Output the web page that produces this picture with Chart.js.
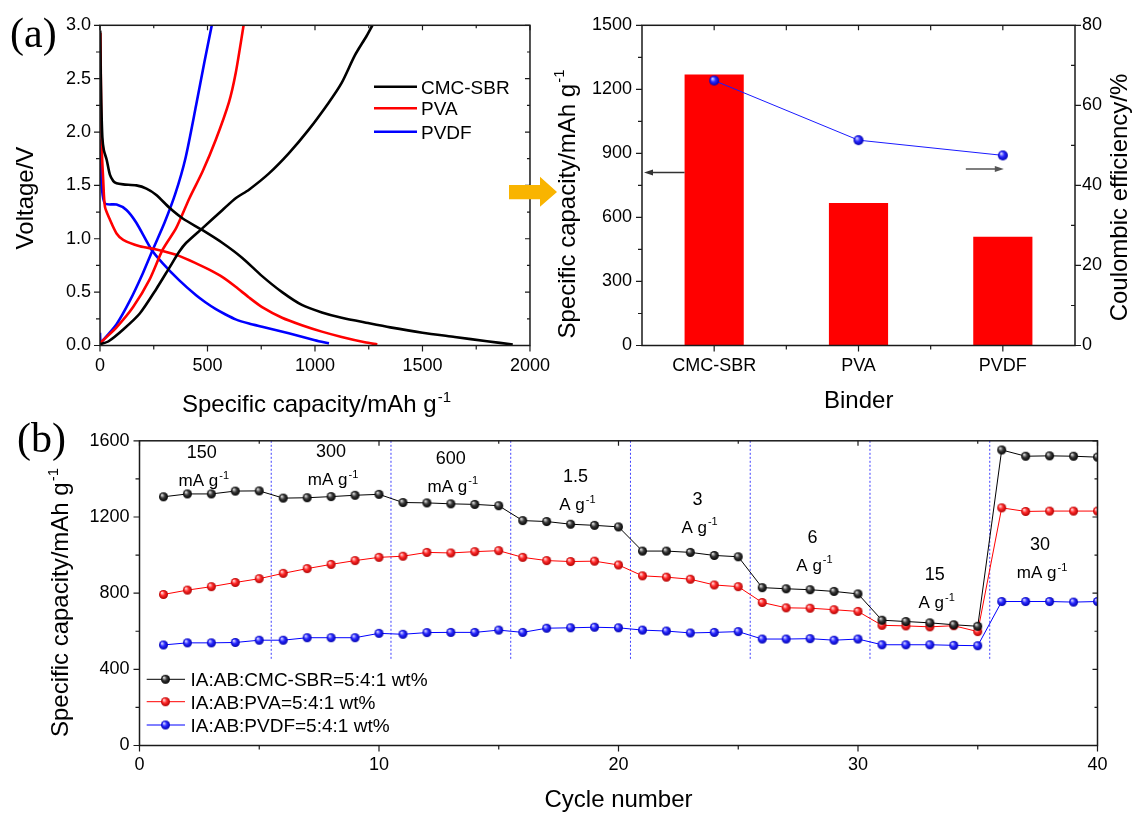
<!DOCTYPE html>
<html>
<head>
<meta charset="utf-8">
<script src="https://cdn.jsdelivr.net/npm/chart.js@4.4.0/dist/chart.umd.min.js"></script>
<style>
body { margin: 0; background: #fff; }
#wrap { position: relative; width: 1138px; height: 814px; overflow: hidden; }
canvas { position: absolute; }
</style>
</head>
<body>
<div id="wrap">
  <canvas id="cA" width="560" height="420" style="left:0;top:0"></canvas>
  <canvas id="cB" width="598" height="420" style="left:540px;top:0"></canvas>
  <canvas id="cC" width="1138" height="394" style="left:0;top:420px"></canvas>
</div>
<script>
// ---- (a) left: first discharge / charge curves (capacity mAh/g, voltage V)
const cmcDisCap = [1, 3, 6, 11, 18, 31, 46, 62, 77, 108, 169, 216, 262, 323, 385, 477, 570, 662, 754, 847, 939, 1032, 1124, 1247, 1350, 1500, 1650, 1800, 1920];
const cmcDisV   = [2.95, 2.6, 2.27, 1.95, 1.83, 1.74, 1.60, 1.54, 1.52, 1.51, 1.50, 1.47, 1.41, 1.29, 1.19, 1.08, 0.96, 0.82, 0.65, 0.50, 0.38, 0.31, 0.26, 0.21, 0.17, 0.12, 0.08, 0.04, 0.01];
const cmcChgCap = [0, 40, 108, 185, 262, 323, 369, 400, 477, 570, 631, 693, 785, 878, 970, 1062, 1124, 1186, 1240, 1267];
const cmcChgV   = [0.01, 0.04, 0.15, 0.30, 0.53, 0.73, 0.88, 0.96, 1.10, 1.27, 1.38, 1.46, 1.61, 1.80, 2.02, 2.27, 2.46, 2.72, 2.90, 3.0];

const pvaDisCap = [2, 4, 6, 9, 15, 23, 46, 77, 108, 185, 262, 354, 447, 508, 570, 631, 693, 754, 847, 939, 1032, 1124, 1232, 1290];
const pvaDisV   = [2.93, 2.5, 2.11, 1.8, 1.55, 1.30, 1.18, 1.05, 0.99, 0.93, 0.90, 0.85, 0.77, 0.71, 0.64, 0.55, 0.45, 0.36, 0.26, 0.19, 0.13, 0.08, 0.03, 0.01];
const pvaChgCap = [0, 15, 77, 154, 231, 292, 354, 416, 477, 539, 600, 631, 668];
const pvaChgV   = [0.02, 0.05, 0.17, 0.36, 0.62, 0.90, 1.10, 1.38, 1.63, 1.93, 2.28, 2.55, 3.0];

const pvdfDisCap = [1, 4, 8, 23, 77, 123, 169, 239, 292, 369, 447, 490, 539, 580, 631, 693, 754, 878, 1000, 1065];
const pvdfDisV   = [1.93, 1.7, 1.49, 1.33, 1.32, 1.27, 1.15, 0.90, 0.77, 0.61, 0.47, 0.405, 0.34, 0.295, 0.245, 0.205, 0.175, 0.115, 0.05, 0.02];
const pvdfChgCap = [0, 2, 5, 77, 139, 200, 246, 300, 350, 397, 447, 485, 520];
const pvdfChgV   = [0.12, 0.03, 0.03, 0.20, 0.42, 0.68, 0.90, 1.15, 1.42, 1.75, 2.25, 2.65, 3.0];

// ---- (a) right: first-cycle capacity and coulombic efficiency per binder
const binders = ['CMC-SBR', 'PVA', 'PVDF'];
const firstCapacity = [1270, 668, 509];
const coulombEff = [66.2, 51.3, 47.5];

// ---- (b) rate performance
const cycles = [1, 2, 3, 4, 5, 6, 7, 8, 9, 10, 11, 12, 13, 14, 15, 16, 17, 18, 19, 20,
                21, 22, 23, 24, 25, 26, 27, 28, 29, 30, 31, 32, 33, 34, 35, 36, 37, 38, 39, 40];
const capCMC = [1306, 1321, 1321, 1336, 1337, 1299, 1301, 1307, 1314, 1319, 1276, 1274, 1269, 1266, 1259, 1181, 1176, 1162, 1156, 1148,
                1021, 1021, 1014, 998, 991, 829, 823, 818, 809, 796, 658, 651, 644, 634, 626, 1552, 1519, 1521, 1519, 1514];
const capPVA = [793, 816, 834, 856, 876, 904, 929, 951, 971, 988, 994, 1014, 1011, 1018, 1023, 988, 971, 966, 968, 948,
                891, 884, 873, 843, 834, 751, 723, 721, 713, 704, 631, 628, 623, 629, 598, 1248, 1229, 1231, 1231, 1231];
const capPVDF = [528, 539, 539, 541, 553, 553, 566, 566, 566, 589, 584, 593, 594, 594, 606, 594, 616, 618, 621, 618,
                 606, 601, 591, 594, 598, 559, 559, 561, 553, 559, 529, 529, 529, 526, 524, 756, 756, 756, 753, 756];
const rateSwitch = [5.5, 10.5, 15.5, 20.5, 25.5, 30.5, 35.5];
const rateValue = ['150', '300', '600', '1.5', '3', '6', '15', '30'];
const rateUnit = ['mA g', 'mA g', 'mA g', 'A g', 'A g', 'A g', 'A g', 'mA g'];

// layout (placement of rate labels in axis units)
const rateLabelX = [2.6, 8.0, 13.0, 18.2, 23.3, 28.1, 33.2, 37.6];
const rateLabelY = [1542, 1547, 1512, 1417, 1297, 1097, 902, 1057];

const SANS = "'Liberation Sans', Arial, sans-serif";
const SERIF = "'Liberation Serif', 'Times New Roman', serif";
Chart.defaults.font.family = SANS;
Chart.defaults.font.size = 18;
Chart.defaults.color = '#000';
Chart.defaults.animation = false;

function pts(xs, ys) { return xs.map((x, i) => ({ x: x, y: ys[i] })); }

function range(a, b, step) {
  const r = [];
  for (let v = a; v <= b + 1e-9; v += step) r.push(+v.toFixed(6));
  return r;
}

const plain = v => String(v);

// shaded sphere used as marker
function ball(c0, c1, c2, r) {
  const cv = document.createElement('canvas');
  const s = Math.ceil(2 * r + 2);
  cv.width = s; cv.height = s;
  const g = cv.getContext('2d');
  const m = s / 2;
  const grd = g.createRadialGradient(m - r * 0.35, m - r * 0.4, r * 0.1, m, m, r);
  grd.addColorStop(0, c0);
  grd.addColorStop(0.45, c1);
  grd.addColorStop(1, c2);
  g.fillStyle = grd;
  g.beginPath(); g.arc(m, m, r, 0, Math.PI * 2); g.fill();
  return cv;
}
const ballK = ball('#d8d8d8', '#3a3a3a', '#000', 4.5);
const ballR = ball('#ffd0d0', '#ff2a2a', '#b00000', 4.5);
const ballB = ball('#d0d0ff', '#2a2aff', '#0000b0', 4.5);
const ballB2 = ball('#d0d0ff', '#2a2aff', '#0000b0', 5);

function supText(ctx, main, sup, x, y, size, align, family) {
  family = family || SANS;
  ctx.font = size + 'px ' + family;
  const w1 = ctx.measureText(main).width;
  const ss = Math.round(size * 0.62);
  ctx.font = ss + 'px ' + family;
  const w2 = sup ? ctx.measureText(sup).width + 1 : 0;
  let x0 = x;
  if (align === 'center') x0 = x - (w1 + w2) / 2;
  else if (align === 'right') x0 = x - w1 - w2;
  ctx.textAlign = 'left';
  ctx.textBaseline = 'alphabetic';
  ctx.fillStyle = '#000';
  ctx.font = size + 'px ' + family;
  ctx.fillText(main, x0, y);
  if (sup) {
    ctx.font = ss + 'px ' + family;
    ctx.fillText(sup, x0 + w1 + 1, y - size * 0.42);
  }
}

function vText(ctx, main, sup, x, y, size) {
  ctx.save();
  ctx.translate(x, y);
  ctx.rotate(-Math.PI / 2);
  supText(ctx, main, sup, 0, 0, size, 'center');
  ctx.restore();
}

function tickMarks(ctx, chart, scaleId, side, values, len) {
  const a = chart.chartArea, s = chart.scales[scaleId];
  ctx.beginPath();
  values.forEach(v => {
    const p = s.getPixelForValue(v);
    if (side === 'left') { ctx.moveTo(a.left, p); ctx.lineTo(a.left - len, p); }
    if (side === 'right') { ctx.moveTo(a.right, p); ctx.lineTo(a.right + len, p); }
    if (side === 'bottom') { ctx.moveTo(p, a.bottom); ctx.lineTo(p, a.bottom + len); }
    if (side === 'top') { ctx.moveTo(p, a.top); ctx.lineTo(p, a.top - len); }
  });
  ctx.stroke();
}

function frame(ctx, chart) {
  const a = chart.chartArea;
  ctx.strokeStyle = '#1a1a1a';
  ctx.lineWidth = 1.5;
  ctx.strokeRect(a.left, a.top, a.right - a.left, a.bottom - a.top);
}

function arrow(ctx, x1, y, x2, color) {
  const d = x2 > x1 ? 1 : -1;
  ctx.strokeStyle = color; ctx.fillStyle = color; ctx.lineWidth = 1.5;
  ctx.beginPath(); ctx.moveTo(x1, y); ctx.lineTo(x2 - d * 6, y); ctx.stroke();
  ctx.beginPath(); ctx.moveTo(x2, y); ctx.lineTo(x2 - d * 9, y - 3); ctx.lineTo(x2 - d * 9, y + 3); ctx.closePath(); ctx.fill();
}

const hideGrid = { display: false, drawTicks: false };
const noBorder = { display: false };

// ================= (a) voltage profiles =================
function curve(label, xs, ys, color) {
  return { label: label, data: pts(xs, ys), borderColor: color, borderWidth: 2.6, pointRadius: 0, tension: 0.25, fill: false };
}

new Chart(document.getElementById('cA'), {
  type: 'line',
  data: {
    datasets: [
      curve('CMC-SBR', cmcDisCap, cmcDisV, '#000'),
      curve('CMC-SBR charge', cmcChgCap, cmcChgV, '#000'),
      curve('PVA', pvaDisCap, pvaDisV, '#ff0000'),
      curve('PVA charge', pvaChgCap, pvaChgV, '#ff0000'),
      curve('PVDF', pvdfDisCap, pvdfDisV, '#0000ff'),
      curve('PVDF charge', pvdfChgCap, pvdfChgV, '#0000ff')
    ]
  },
  options: {
    responsive: false,
    layout: { padding: { top: 25.3, right: 27, left: 0, bottom: 0 } },
    plugins: { legend: { display: false }, tooltip: { enabled: false } },
    scales: {
      x: { type: 'linear', min: 0, max: 2000, grid: hideGrid, border: noBorder,
           ticks: { stepSize: 500, padding: 10, maxRotation: 0, callback: plain },
           afterFit: s => { s.height = 74.5; } },
      y: { min: 0, max: 3, grid: hideGrid, border: noBorder,
           ticks: { stepSize: 0.5, padding: 9, callback: v => v.toFixed(1) },
           afterFit: s => { s.width = 100; } }
    }
  },
  plugins: [{
    id: 'decoA',
    afterDraw(chart) {
      const ctx = chart.ctx;
      ctx.save();
      frame(ctx, chart);
      ctx.lineWidth = 1.2;
      tickMarks(ctx, chart, 'y', 'left', range(0, 3, 0.5), 6);
      tickMarks(ctx, chart, 'y', 'left', range(0.25, 2.75, 0.5), 4);
      tickMarks(ctx, chart, 'y', 'right', range(0, 3, 0.5), -5);
      tickMarks(ctx, chart, 'y', 'right', range(0.25, 2.75, 0.5), -3);
      tickMarks(ctx, chart, 'x', 'bottom', range(0, 2000, 500), 6);
      tickMarks(ctx, chart, 'x', 'bottom', range(250, 1750, 500), 4);
      tickMarks(ctx, chart, 'x', 'top', range(0, 2000, 500), -5);
      tickMarks(ctx, chart, 'x', 'top', range(250, 1750, 500), -3);

      // legend
      const rows = [[0, 86.7], [2, 108.3], [4, 131.7]];
      rows.forEach(r => {
        const ds = chart.data.datasets[r[0]];
        ctx.strokeStyle = ds.borderColor; ctx.lineWidth = 2.6;
        ctx.beginPath(); ctx.moveTo(374, r[1]); ctx.lineTo(417, r[1]); ctx.stroke();
        supText(ctx, ds.label, '', 421, r[1] + 7, 19, 'left');
      });

      supText(ctx, '(a)', '', 10, 47, 42, 'left', SERIF);
      supText(ctx, 'Specific capacity/mAh g', '-1', 316.5, 412, 24, 'center');
      vText(ctx, 'Voltage/V', '', 33, 198, 24);

      // yellow arrow pointing to the bar chart
      ctx.fillStyle = '#f9b400';
      ctx.beginPath();
      ctx.moveTo(509, 185); ctx.lineTo(540, 185); ctx.lineTo(540, 176.7);
      ctx.lineTo(557, 192); ctx.lineTo(540, 206.7); ctx.lineTo(540, 199.3);
      ctx.lineTo(509, 199.3); ctx.closePath(); ctx.fill();
      ctx.restore();
    }
  }]
});

// ================= (a) binder comparison =================
new Chart(document.getElementById('cB'), {
  type: 'bar',
  data: {
    labels: binders,
    datasets: [
      { type: 'line', label: 'Coulombic efficiency', data: coulombEff, yAxisID: 'y1', order: 0,
        borderColor: '#1a1aff', borderWidth: 1, pointStyle: ballB2, pointRadius: 5 },
      { type: 'bar', label: 'Specific capacity', data: firstCapacity, yAxisID: 'y', order: 1,
        backgroundColor: '#ff0000', borderWidth: 0, barPercentage: 0.41, categoryPercentage: 1 }
    ]
  },
  options: {
    responsive: false,
    layout: { padding: { top: 25.3, right: 0, left: 0, bottom: 0 } },
    plugins: { legend: { display: false }, tooltip: { enabled: false } },
    scales: {
      x: { grid: hideGrid, border: noBorder, ticks: { padding: 10, maxRotation: 0 },
           afterFit: s => { s.height = 74.5; } },
      y: { position: 'left', min: 0, max: 1500, grid: hideGrid, border: noBorder,
           ticks: { stepSize: 300, padding: 10, callback: plain },
           afterFit: s => { s.width = 102; } },
      y1: { position: 'right', min: 0, max: 80, grid: hideGrid, border: noBorder,
            ticks: { stepSize: 20, padding: 7, callback: plain },
            afterFit: s => { s.width = 63; } }
    }
  },
  plugins: [{
    id: 'decoB',
    afterDraw(chart) {
      const ctx = chart.ctx;
      ctx.save();
      frame(ctx, chart);
      ctx.lineWidth = 1.2;
      tickMarks(ctx, chart, 'y', 'left', range(0, 1500, 300), 6);
      tickMarks(ctx, chart, 'y', 'left', range(150, 1350, 300), 4);
      tickMarks(ctx, chart, 'y1', 'right', range(0, 80, 20), 6);
      tickMarks(ctx, chart, 'y1', 'right', range(10, 70, 20), -4);
      tickMarks(ctx, chart, 'x', 'bottom', [0, 1, 2], 6);
      tickMarks(ctx, chart, 'x', 'bottom', [0.5, 1.5], 4);
      tickMarks(ctx, chart, 'x', 'top', [0, 1, 2, 0.5, 1.5], -5);

      // arrows pointing to the matching axes
      const bar = chart.getDatasetMeta(1).data[0];
      const ay = chart.scales.y.getPixelForValue(810);
      arrow(ctx, bar.x - bar.width / 2, ay, chart.chartArea.left + 2, '#333');
      const by = chart.scales.y1.getPixelForValue(44.1);
      const bx = chart.scales.x.getPixelForValue(2) + 1;
      arrow(ctx, bx - 38, by, bx, '#555');

      vText(ctx, 'Specific capacity/mAh g', '-1', 34.5, 204, 24);
      vText(ctx, 'Coulombic efficiency/%', '', 586.5, 197.5, 24);
      supText(ctx, 'Binder', '', 318.7, 408, 24, 'center');
      ctx.restore();
    }
  }]
});

// ================= (b) rate capability =================
function series(label, ys, color, img) {
  return { label: label, data: pts(cycles, ys), borderColor: color, borderWidth: 1,
           pointStyle: img, pointRadius: 4.5, tension: 0, fill: false };
}

new Chart(document.getElementById('cC'), {
  type: 'line',
  data: {
    datasets: [
      series('IA:AB:CMC-SBR=5:4:1 wt%', capCMC, '#000', ballK),
      series('IA:AB:PVA=5:4:1 wt%', capPVA, '#ff0000', ballR),
      series('IA:AB:PVDF=5:4:1 wt%', capPVDF, '#0000ff', ballB)
    ]
  },
  options: {
    responsive: false,
    layout: { padding: { top: 5.3, right: 40.5, left: 0, bottom: 0 } },
    plugins: { legend: { display: false }, tooltip: { enabled: false } },
    scales: {
      x: { type: 'linear', min: 0, max: 40, grid: hideGrid, border: noBorder,
           ticks: { stepSize: 10, padding: 9, maxRotation: 0, callback: plain },
           afterFit: s => { s.height = 68.5; } },
      y: { min: 0, max: 1600, grid: hideGrid, border: noBorder,
           ticks: { stepSize: 400, padding: 10, callback: plain },
           afterFit: s => { s.width = 139.5; } }
    }
  },
  plugins: [{
    id: 'decoC',
    beforeDatasetsDraw(chart) {
      const ctx = chart.ctx, sx = chart.scales.x, sy = chart.scales.y;
      ctx.save();
      ctx.strokeStyle = 'rgba(30,30,255,0.85)';
      ctx.lineWidth = 1;
      ctx.setLineDash([2, 2]);
      rateSwitch.forEach(c => {
        const x = sx.getPixelForValue(c);
        ctx.beginPath();
        ctx.moveTo(x, sy.getPixelForValue(1600));
        ctx.lineTo(x, sy.getPixelForValue(452));
        ctx.stroke();
      });
      ctx.restore();
    },
    afterDraw(chart) {
      const ctx = chart.ctx, sx = chart.scales.x, sy = chart.scales.y, a = chart.chartArea;
      ctx.save();
      frame(ctx, chart);
      ctx.lineWidth = 1.2;
      tickMarks(ctx, chart, 'y', 'left', range(0, 1600, 400), 6);
      tickMarks(ctx, chart, 'y', 'left', range(200, 1400, 400), 4);
      tickMarks(ctx, chart, 'y', 'right', range(0, 1600, 400), -5);
      tickMarks(ctx, chart, 'y', 'right', range(200, 1400, 400), -3);
      tickMarks(ctx, chart, 'x', 'bottom', range(0, 40, 10), 6);
      tickMarks(ctx, chart, 'x', 'bottom', range(5, 35, 10), 4);
      tickMarks(ctx, chart, 'x', 'top', range(0, 40, 10), -5);
      tickMarks(ctx, chart, 'x', 'top', range(5, 35, 10), -3);

      // current density labels
      rateValue.forEach((t, i) => {
        const x = sx.getPixelForValue(rateLabelX[i]);
        const y = sy.getPixelForValue(rateLabelY[i]);
        supText(ctx, t, '', x, y + 6, 18, 'center');
        supText(ctx, rateUnit[i], '-1', x + 2, y + 34, 17, 'center');
      });

      // legend
      const rows = [259.3, 281.7, 305];
      const imgs = [ballK, ballR, ballB];
      chart.data.datasets.forEach((ds, i) => {
        const y = rows[i];
        ctx.strokeStyle = ds.borderColor; ctx.lineWidth = 1;
        ctx.beginPath(); ctx.moveTo(a.left + 7.2, y); ctx.lineTo(a.left + 45.5, y); ctx.stroke();
        ctx.drawImage(imgs[i], a.left + 26 - imgs[i].width / 2, y - imgs[i].height / 2);
        supText(ctx, ds.label, '', a.left + 51, y + 7, 19, 'left');
      });

      supText(ctx, '(b)', '', 17, 32, 42, 'left', SERIF);
      vText(ctx, 'Specific capacity/mAh g', '-1', 68, 182.5, 24);
      supText(ctx, 'Cycle number', '', 618.5, 386.7, 24, 'center');
      ctx.restore();
    }
  }]
});
</script>
</body>
</html>
